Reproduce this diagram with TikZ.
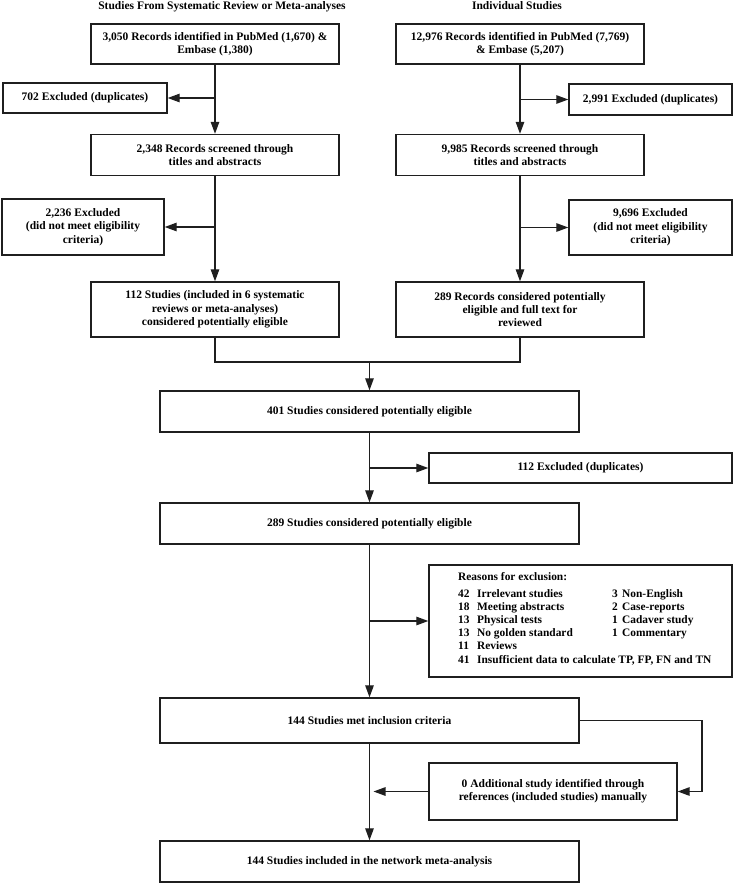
\documentclass[tikz,border=0pt]{standalone}
\usepackage{fontspec}
\setmainfont{Liberation Serif}
\usetikzlibrary{arrows.meta}
\begin{document}
\begin{tikzpicture}[x=1pt,y=-1pt,
  box/.style={draw=black!88, line width=1.4pt, align=center, inner sep=2pt,
    font=\fontsize{11.5}{13.3}\selectfont\bfseries},
  arr/.style={draw=black!88, line width=1.3pt, -{Triangle[length=12pt,width=8.5pt]}},
  ln/.style={draw=black!88, line width=1.3pt},
  ttl/.style={font=\fontsize{11.5}{13.3}\selectfont\bfseries, anchor=base, inner sep=0},
  txt/.style={font=\fontsize{11.4}{13.3}\selectfont\bfseries, anchor=base west, inner sep=0}]
\useasboundingbox (0,0) rectangle (735,884);

% titles
\node[ttl] (tL) at (222,9) {Studies From Systematic Review or Meta-analyses};
\node[ttl] (tR) at (517,9) {Individual Studies};

% left column
\node[box, minimum width=248, minimum height=40] (A1) at (215,44)
  {3,050 Records identified in PubMed (1,670) \&\\Embase (1,380)};
\node[box, minimum width=164, minimum height=30] (ExA1) at (85,98)
  {702 Excluded (duplicates)};
\node[box, minimum width=248, minimum height=41] (A2) at (215,155)
  {2,348 Records screened through\\titles and abstracts};
\node[box, minimum width=162, minimum height=56] (ExA2) at (83,227)
  {2,236 Excluded\\(did not meet eligibility\\criteria)};
\node[box, minimum width=248, minimum height=55] (A3) at (215,309.5)
  {112 Studies (included in 6 systematic\\reviews or meta-analyses)\\considered potentially eligible};

% right column
\node[box, minimum width=248, minimum height=40] (B1) at (520,44)
  {12,976 Records identified in PubMed (7,769)\\\& Embase (5,207)};
\node[box, minimum width=163, minimum height=31] (ExB1) at (650.5,99.5)
  {2,991 Excluded (duplicates)};
\node[box, minimum width=248, minimum height=41] (B2) at (520,155)
  {9,985 Records screened through\\titles and abstracts};
\node[box, minimum width=163, minimum height=55] (ExB2) at (650.5,227.5)
  {9,696 Excluded\\(did not meet eligibility\\criteria)};
\node[box, minimum width=248, minimum height=55] (B3) at (520,309.5)
  {289 Records considered potentially\\eligible and full text for\\reviewed};

% merged column
\node[box, minimum width=419, minimum height=41] (C1) at (369.5,411.5)
  {401 Studies considered potentially eligible};
\node[box, minimum width=303, minimum height=30] (X112) at (580.5,468)
  {112 Excluded (duplicates)};
\node[box, minimum width=419, minimum height=41] (C2) at (369.5,523.5)
  {289 Studies considered potentially eligible};
\node[box, minimum width=303, minimum height=112] (R) at (580.5,621) {};
\node[box, minimum width=419, minimum height=45] (D1) at (369.5,720.5)
  {144 Studies met inclusion criteria};
\node[box, minimum width=248, minimum height=57] (Add) at (553,791.5)
  {0 Additional study identified through\\references (included studies) manually};
\node[box, minimum width=419, minimum height=41] (D2) at (369.5,861.5)
  {144 Studies included in the network meta-analysis};

% reasons text
\node[txt] (r0) at (458,580.5) {Reasons for exclusion:};
\node[txt] (r1n) at (458,597.5) {42};  \node[txt] (r1t) at (477,597.5) {Irrelevant studies};
\node[txt] (r2n) at (458,610.5) {18};  \node[txt] (r2t) at (477,610.5) {Meeting abstracts};
\node[txt] (r3n) at (458,623.5) {13};  \node[txt] (r3t) at (477,623.5) {Physical tests};
\node[txt] (r4n) at (458,636.5) {13};  \node[txt] (r4t) at (477,636.5) {No golden standard};
\node[txt] (r5n) at (458,649.5) {11};  \node[txt] (r5t) at (477,649.5) {Reviews};
\node[txt] (r6n) at (458,663.5) {41};  \node[txt] (r6t) at (477,663.5) {Insufficient data to calculate TP, FP, FN and TN};
\node[txt] (s1n) at (612,597.5) {3};   \node[txt] (s1t) at (622,597.5) {Non-English};
\node[txt] (s2n) at (612,610.5) {2};   \node[txt] (s2t) at (622,610.5) {Case-reports};
\node[txt] (s3n) at (612,623.5) {1};   \node[txt] (s3t) at (622,623.5) {Cadaver study};
\node[txt] (s4n) at (612,636.5) {1};   \node[txt] (s4t) at (622,636.5) {Commentary};

% connectors
\draw[arr] (A1) -- (A2);
\draw[arr] (A1.south |- ExA1.east) -- (ExA1.east);
\draw[arr] (A2) -- (A3);
\draw[arr] (A2.south |- ExA2.east) -- (ExA2.east);
\draw[arr] (B1) -- (B2);
\draw[arr] (B1.south |- ExB1.west) -- (ExB1.west);
\draw[arr] (B2) -- (B3);
\draw[arr] (B2.south |- ExB2.west) -- (ExB2.west);
\coordinate (m) at (369.5,362);
\draw[ln] (A3.south) |- (m) -| (B3.south);
\draw[arr] (m) -- (C1.north);
\draw[arr] (C1) -- (C2);
\draw[arr] (C1.south |- X112.west) -- (X112.west);
\draw[arr] (C2) -- (D1);
\draw[arr] (C2.south |- R.west) -- (R.west);
\draw[arr] (D1) -- (D2);
\coordinate (lp) at (702,720.5);
\draw[arr] (D1.east) -- (lp) |- (Add.east);
\coordinate (tip) at (373.5,791.5);
\draw[arr] (Add.west) -- (tip);
\end{tikzpicture}
\end{document}
